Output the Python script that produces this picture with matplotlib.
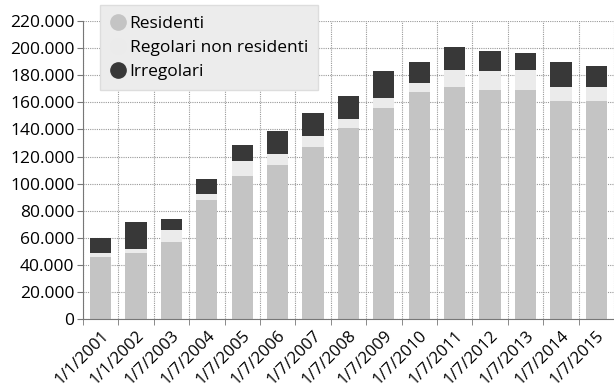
import matplotlib.pyplot as plt
import numpy as np
from matplotlib.ticker import FuncFormatter, MultipleLocator, FixedLocator
from matplotlib.lines import Line2D

plt.rcParams['font.family'] = ['Open Sans', 'DejaVu Sans']

# dati
date = ['1/1/2001', '1/1/2002', '1/7/2003', '1/7/2004', '1/7/2005', '1/7/2006',
        '1/7/2007', '1/7/2008', '1/7/2009', '1/7/2010', '1/7/2011', '1/7/2012',
        '1/7/2013', '1/7/2014', '1/7/2015']
residenti = [46000, 48500, 57000, 88000, 106000, 114000, 127000, 141000,
             156000, 167500, 171000, 169000, 169000, 161000, 161000]
regolari_nr = [2500, 3500, 9000, 4000, 10500, 8000, 8000, 6500,
               7000, 7000, 13000, 14000, 15000, 10000, 10000]
irregolari = [11000, 19500, 8000, 11500, 12000, 17000, 17000, 17500,
              20000, 15000, 17000, 15000, 12500, 19000, 16000]

c_res = '#c4c4c4'
c_reg = '#ebebeb'
c_irr = '#383838'

fig = plt.figure(figsize=(6.14, 3.91), dpi=100)
ax = fig.add_axes([0.135, 0.184, 0.865, 0.762])

x = np.arange(len(date))
res = np.array(residenti)
reg = np.array(regolari_nr)
irr = np.array(irregolari)
w = 0.6
ax.bar(x, res, w, color=c_res, zorder=2)
ax.bar(x, reg, w, bottom=res, color=c_reg, zorder=2)
ax.bar(x, irr, w, bottom=res + reg, color=c_irr, zorder=2)

ax.set_xlim(-0.5, len(date) - 0.5)
ax.set_ylim(0, 220000)
ax.yaxis.set_major_locator(MultipleLocator(20000))
ax.yaxis.set_major_formatter(FuncFormatter(lambda v, p: '0' if v == 0 else '{:,.0f}'.format(v).replace(',', '.')))

# griglia tra le categorie
ax.xaxis.set_major_locator(FixedLocator(x))
ax.xaxis.set_minor_locator(FixedLocator(np.arange(len(date) + 1) - 0.5))
ax.set_xticklabels(date, rotation=45, ha='right', rotation_mode='anchor')
ax.tick_params(axis='x', which='major', length=0, labelsize=12, pad=6)
ax.tick_params(axis='x', which='minor', length=4, color='#777777')
ax.tick_params(axis='y', length=4, color='#777777', labelsize=12.5, pad=2)
ax.grid(axis='y', which='major', color='#999999', linestyle=(0, (1, 1)), linewidth=0.8, zorder=0)
ax.grid(axis='x', which='minor', color='#999999', linestyle=(0, (1, 1)), linewidth=0.8, zorder=0)

for s in ['top', 'right']:
    ax.spines[s].set_visible(False)
for s in ['left', 'bottom']:
    ax.spines[s].set_color('#777777')
    ax.spines[s].set_linestyle((0, (1, 1)))
    ax.spines[s].set_linewidth(0.8)

handles = [Line2D([], [], marker='o', linestyle='', markersize=11, markerfacecolor=c, markeredgecolor=c)
           for c in (c_res, c_reg, c_irr)]
leg = fig.legend(handles, ['Residenti', 'Regolari non residenti', 'Irregolari'],
                 loc='upper left', bbox_to_anchor=(0.163, 0.987), borderaxespad=0,
                 fontsize=12.5, frameon=True, fancybox=False, handletextpad=0.2,
                 borderpad=0.6, labelspacing=0.45, handlelength=0.9)
leg.get_frame().set_facecolor('#ececec')
leg.get_frame().set_edgecolor('#dddddd')
leg.get_frame().set_alpha(1)

fig.savefig('out.png', dpi=100)
